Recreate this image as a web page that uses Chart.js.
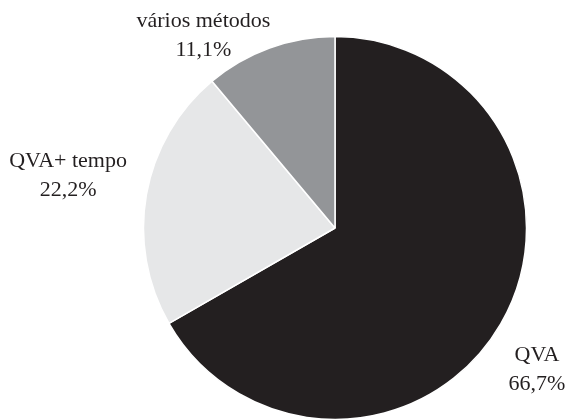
<!DOCTYPE html>
<html>
<head>
<meta charset="utf-8">
<script src="https://cdn.jsdelivr.net/npm/chart.js@4.4.0/dist/chart.umd.min.js"></script>
<style>
html,body{margin:0;padding:0;background:#fff;}
#wrap{width:567px;height:419px;position:relative;}
</style>
</head>
<body>
<div id="wrap"><canvas id="c" width="567" height="419"></canvas></div>
<script>
const categories = ["QVA", "QVA+ tempo", "vários métodos"];
const values = [66.7, 22.2, 11.1];
const valueLabels = ["66,7%", "22,2%", "11,1%"];
const colors = ["#231f20", "#e6e7e8", "#939598"];

// label placement: [angle offset from slice mid (deg), distance factor of radius]
const labelPlacement = [
  {dAngle: 6.1, dist: 1.31},
  {dAngle: -0.3, dist: 1.418},
  {dAngle: -15.3, dist: 1.193}
];

const labelPlugin = {
  id: 'outLabels',
  afterDraw(chart) {
    const ctx = chart.ctx;
    const meta = chart.getDatasetMeta(0);
    ctx.save();
    ctx.fillStyle = '#231f20';
    ctx.font = '22px "Liberation Serif", "Times New Roman", serif';
    ctx.textAlign = 'center';
    ctx.textBaseline = 'alphabetic';
    meta.data.forEach((arc, i) => {
      const p = arc.getProps(['x','y','startAngle','endAngle','outerRadius'], true);
      const mid = (p.startAngle + p.endAngle) / 2 + labelPlacement[i].dAngle * Math.PI / 180;
      const r = 191 * labelPlacement[i].dist;
      const cx = p.x + Math.cos(mid) * r;
      const cy = p.y + Math.sin(mid) * r;
      ctx.fillText(categories[i], cx, cy - 14.5);
      ctx.fillText(valueLabels[i], cx, cy + 14.5);
    });
    ctx.restore();
  }
};

new Chart(document.getElementById('c'), {
  type: 'pie',
  data: {
    labels: categories,
    datasets: [{
      data: values,
      backgroundColor: colors,
      borderColor: '#ffffff',
      borderWidth: 1.5,
      hoverOffset: 0
    }]
  },
  options: {
    responsive: false,
    animation: false,
    radius: 191.5,
    layout: {padding: {top: 37, bottom: 0, left: 103, right: 0}},
    plugins: {legend: {display: false}, tooltip: {enabled: false}},
  },
  plugins: [labelPlugin]
});
</script>
</body>
</html>
